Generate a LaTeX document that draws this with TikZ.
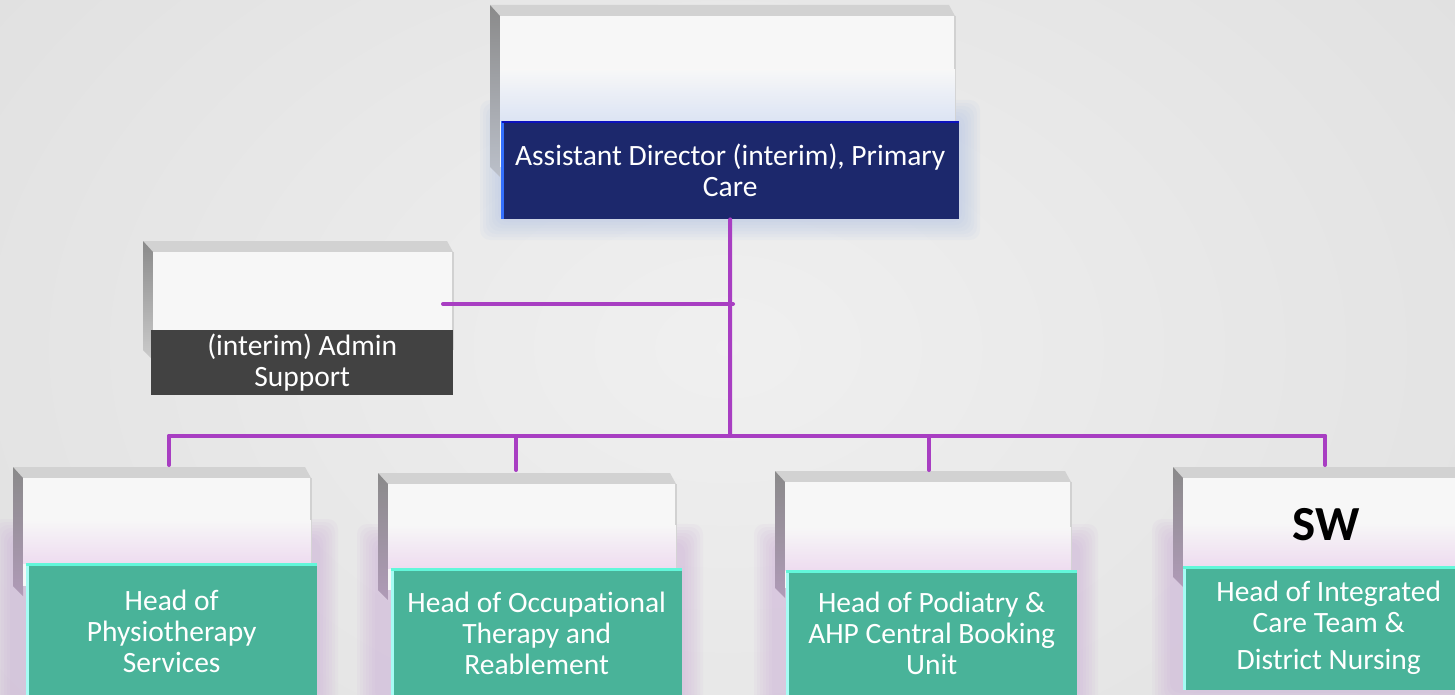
\documentclass[tikz,border=0pt]{standalone}
\usepackage{fontspec}
\setmainfont{Carlito}[Ligatures=CommonOff]
\definecolor{linec}{HTML}{A83EC2}
\definecolor{bevtopc}{HTML}{D2D2D2}
\definecolor{bevleftc}{HTML}{8A8A8A}
\definecolor{facec}{HTML}{F7F7F7}
\definecolor{pinktint}{HTML}{EEDCF0}
\definecolor{bluetint}{HTML}{DCE4F4}
\definecolor{pinkglow}{HTML}{C9A6D6}
\definecolor{blueglow}{HTML}{A9BDE6}
\definecolor{greenc}{HTML}{49B399}
\definecolor{navyc}{HTML}{1C286C}
\definecolor{darkc}{HTML}{424242}
\definecolor{aquatop}{HTML}{62F7DA}
\definecolor{aqualeft}{HTML}{A6FCF4}
\newcommand{\mycardback}[5]{%
  \fill[bevtopc] (#1,#2) -- (#3-6,#2) -- (#3,#2+11) -- (#1+10,#2+11) -- cycle;
  \shade[top color=bevleftc, bottom color=#5!60!bevleftc] (#1,#2) -- (#1+10,#2+11) -- (#1+10,#4+10) -- (#1,#4) -- cycle;
  \fill[facec] (#1+10,#2+11) rectangle (#3,#4);
  \draw[black!18, line width=1.5pt] (#3,#2+11) -- (#3,#4);
}
\newcommand{\myglow}[5]{%
  \foreach \k in {1,...,7}{
    \fill[#5, opacity=0.08, rounded corners=10pt] (#1-3*\k,#2-3*\k) rectangle (#3+3*\k,#4+3*\k);
  }
}
\tikzset{
  conn/.style={draw=linec, line width=4pt, line cap=round},
  frontbox/.style={inner sep=0pt, align=center, text=white, font=\fontsize{29.5}{31}\selectfont},
  greenbox/.style={frontbox, fill=greenc},
  navybox/.style={frontbox, fill=navyc},
  darkbox/.style={frontbox, fill=darkc},
}
\begin{document}
\begin{tikzpicture}[x=1pt,y=-1pt]
\useasboundingbox (0,0) rectangle (1455,695);
\begin{scope}
\clip (0,0) rectangle (1455,695);
\shade[inner color=white!94!black, outer color=white!88!black] (-200,-300) rectangle (1655,995);

% ---------- glows ----------
\myglow{501}{121}{959}{219}{blueglow}
\myglow{13}{540}{317}{699}{pinkglow}
\myglow{378}{545}{682}{699}{pinkglow}
\myglow{775}{545}{1077}{699}{pinkglow}
\myglow{1173}{540}{1480}{690}{pinkglow}

% ---------- card backs ----------
\mycardback{490}{5}{955}{167}{bluetint}
\shade[top color=facec, bottom color=bluetint] (500,70) rectangle (955,121);
\mycardback{143}{241}{453}{350}{facec}
\mycardback{13}{467}{311}{586}{pinkglow}
\shade[top color=facec, bottom color=pinktint] (23,520) rectangle (311,563);
\mycardback{378}{473}{676}{590}{pinkglow}
\shade[top color=facec, bottom color=pinktint] (388,525) rectangle (676,568);
\mycardback{775}{471}{1071}{588}{pinkglow}
\shade[top color=facec, bottom color=pinktint] (785,527) rectangle (1071,570);
\mycardback{1173}{467}{1470}{577}{pinkglow}
\shade[top color=facec, bottom color=pinktint] (1183,523) rectangle (1470,566);
\node[font=\fontsize{49}{54}\selectfont\bfseries, inner sep=0pt] (swlabel) at (1326,525) {SW};

% ---------- front boxes ----------
\node[navybox, minimum width=458, minimum height=98, anchor=north west] (ad) at (501,121)
  {Assistant Director (interim), Primary\\Care};
\fill[blue!70!cyan!80!white] (501,121) rectangle (504,219);
\draw[blue!55!navyc, line width=2pt] (502,122) -- (959,122);

\node[darkbox, minimum width=302, minimum height=65, anchor=north west] (admin) at (151,330)
  {(interim) Admin\\Support};

\node[greenbox, minimum width=291, minimum height=136, anchor=north west] (phys) at (26,563)
  {Head of\\Physiotherapy\\Services};
\node[greenbox, minimum width=291, minimum height=130, anchor=north west] (ot) at (391,568)
  {Head of Occupational\\Therapy and\\Reablement};
\node[greenbox, minimum width=291, minimum height=126, anchor=north west] (pod) at (786,570)
  {Head of Podiatry \&\\AHP Central Booking\\Unit};
\node[greenbox, minimum width=291, minimum height=124, anchor=north west] (ict) at (1183,566)
  {Head of Integrated\\Care Team \&\\[6pt]District Nursing};
\foreach \b in {phys,ot,pod,ict}{
  \draw[aqualeft, line width=3pt] ([xshift=1.5pt]\b.north west) -- ([xshift=1.5pt]\b.south west);
  \draw[aquatop, line width=3pt] ([yshift=-1.5pt]\b.north west) -- ([yshift=-1.5pt]\b.north east);
}

% ---------- connectors ----------
\coordinate (bus) at (730,436);
\coordinate (busL) at (169,436);
\coordinate (busR) at (1325,436);
\coordinate (adminjoin) at (733,304);
\coordinate (adminend) at (443,304);
\coordinate (t1) at (169,465);
\coordinate (t2) at (516,470);
\coordinate (t3) at (929,470);
\coordinate (t4) at (1325,465);
\draw[conn] (ad.south) -- (bus);
\draw[conn] (adminend) -- (adminjoin);
\draw[conn] (busL) -- (busR);
\draw[conn] (busL) -- (t1);
\draw[conn] (bus -| t2) -- (t2);
\draw[conn] (bus -| t3) -- (t3);
\draw[conn] (busR) -- (t4);
\end{scope}
\end{tikzpicture}
\end{document}
